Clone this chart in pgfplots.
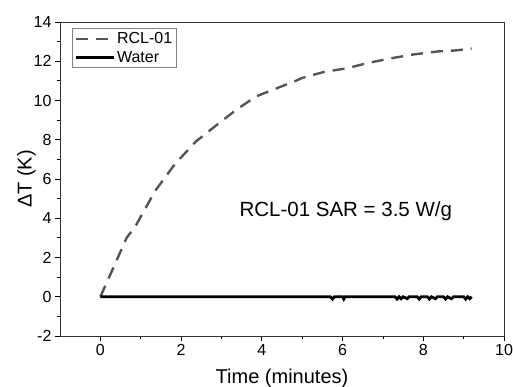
\documentclass[border=0pt]{standalone}
\usepackage{pgfplots}
\pgfplotsset{compat=1.18}
\usepackage{fontspec}
\setmainfont{Liberation Sans}
\definecolor{dgray}{HTML}{555555}
\begin{document}
\begin{tikzpicture}
\begin{axis}[name=ax, scale only axis, width=444pt, height=314pt,
  xmin=-1, xmax=10, ymin=-2, ymax=14,
  xtick={0,2,...,10}, ytick={-2,0,...,14},
  minor x tick num=1, minor y tick num=1,
  tick align=outside, xtick pos=bottom, ytick pos=left,
  major tick length=5pt, minor tick length=3pt,
  tick style={black, line width=0.8pt},
  axis line style={line width=0.9pt, black!80},
  /pgf/number format/assume math mode=true,
  ticklabel style={font=\fontsize{16}{16}\selectfont},
  xlabel={Time (minutes)}, ylabel={ΔT (K)},
  label style={font=\fontsize{20}{20}\selectfont},
  xlabel style={yshift=-6pt},
  ylabel style={yshift=-9pt},
  legend style={at={(0.027,0.98)}, anchor=north west, draw=gray, line width=0.6pt,
    font=\fontsize{16}{16}\selectfont, inner sep=2pt, row sep=2pt, cells={anchor=west}},
  legend image code/.code={\draw[#1] (0pt,0pt) -- (38pt,0pt);},
]
\addplot[dgray, line width=2.4pt, dash pattern=on 12pt off 8pt] coordinates {
(0,0) (0.37,1.7) (0.65,3.0) (0.87,3.6) (1.36,5.4) (1.86,6.8) (2.0,7.1) (2.36,7.9) (2.85,8.7) (3.35,9.5) (3.6,9.85) (3.85,10.2) (4.34,10.6) (4.84,11.0) (5.0,11.15) (5.53,11.45) (6.13,11.65) (6.6,11.9) (7.2,12.15) (7.77,12.35) (8.36,12.5) (8.8,12.55) (9.2,12.65)
};
\addlegendentry{RCL-01}
\addplot[black, line width=2.8pt] coordinates {
(0,0) (5.7,0) (5.75,-0.12) (5.8,0) (6.0,0) (6.03,-0.12) (6.06,0) (7.3,0) (7.35,-0.12) (7.4,0) (7.45,-0.1) (7.5,0) (7.6,-0.1) (7.65,0) (7.85,0) (7.9,-0.12) (7.95,0) (8.1,0) (8.15,-0.12) (8.2,0) (8.3,-0.1) (8.35,0) (8.5,0) (8.55,-0.12) (8.6,0) (8.7,-0.1) (8.75,0) (9.0,0) (9.05,-0.12) (9.1,0) (9.15,-0.1) (9.2,0)
};
\addlegendentry{Water}
\node[font=\fontsize{20.5}{20.5}\selectfont] at (axis cs:6.08,4.35) {RCL-01 SAR = 3.5 W/g};
\end{axis}
\pgfresetboundingbox
\path (ax.south west) ++(-60pt,-51pt) coordinate (bl);
\path (ax.north east) ++(9pt,22pt) coordinate (tr);
\path[use as bounding box] (bl) rectangle (tr);
\end{tikzpicture}
\end{document}
